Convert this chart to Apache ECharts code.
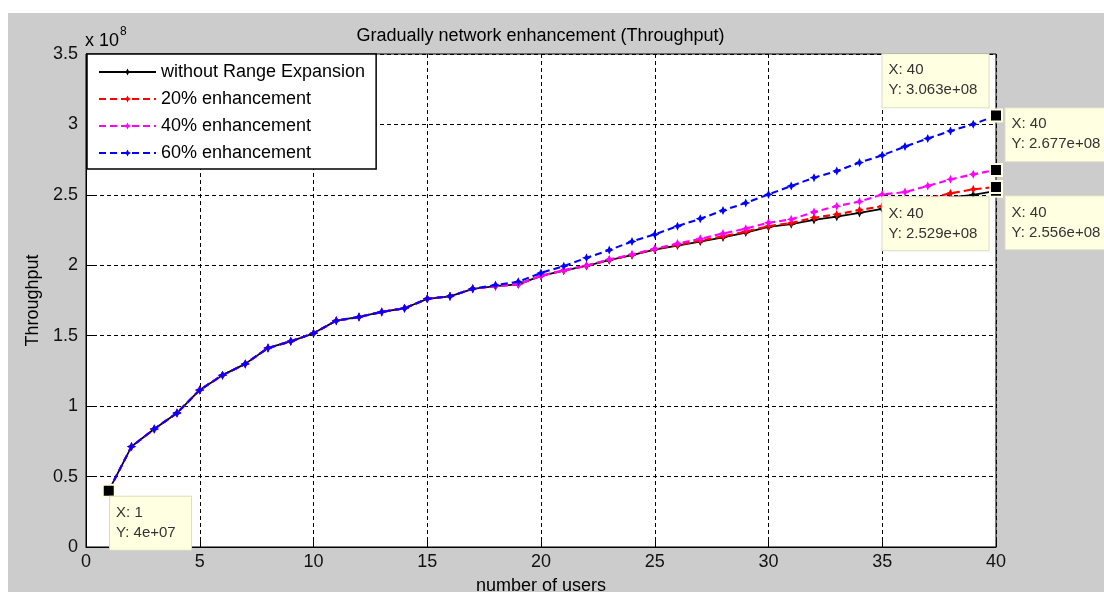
<!DOCTYPE html>
<html><head><meta charset="utf-8">
<script src="https://cdn.jsdelivr.net/npm/echarts@6/dist/echarts.min.js"></script>
<style>
html,body{margin:0;padding:0;background:#fff;width:1104px;height:592px;overflow:hidden}
#c{position:absolute;left:8px;top:13px;width:1096px;height:579px}
</style>
</head><body><div id="c"></div>
<script>
// ---- data (throughput in units of 1e8) ----
const users = [1,2,3,4,5,6,7,8,9,10,11,12,13,14,15,16,17,18,19,20,21,22,23,24,25,26,27,28,29,30,31,32,33,34,35,36,37,38,39,40];
const withoutRangeExpansion = [0.40,0.713,0.838,0.951,1.115,1.22,1.30,1.413,1.46,1.517,1.607,1.633,1.669,1.695,1.762,1.78,1.833,1.852,1.865,1.925,1.962,1.995,2.036,2.072,2.112,2.14,2.168,2.198,2.232,2.272,2.292,2.322,2.345,2.372,2.40,2.425,2.45,2.482,2.50,2.529];
const enh20 = [0.40,0.713,0.838,0.951,1.115,1.22,1.30,1.413,1.46,1.517,1.607,1.633,1.669,1.695,1.762,1.78,1.833,1.852,1.865,1.925,1.963,1.996,2.038,2.074,2.114,2.145,2.175,2.205,2.24,2.278,2.30,2.338,2.361,2.392,2.42,2.445,2.475,2.511,2.539,2.556];
const enh40 = [0.40,0.713,0.838,0.951,1.115,1.22,1.30,1.413,1.46,1.517,1.607,1.633,1.669,1.695,1.762,1.78,1.833,1.852,1.865,1.925,1.965,1.998,2.041,2.077,2.117,2.155,2.188,2.226,2.26,2.302,2.326,2.378,2.42,2.452,2.503,2.52,2.563,2.61,2.646,2.677];
const enh60 = [0.40,0.713,0.838,0.951,1.115,1.22,1.30,1.413,1.46,1.517,1.607,1.633,1.669,1.695,1.762,1.78,1.833,1.86,1.883,1.946,1.994,2.053,2.108,2.169,2.219,2.278,2.33,2.389,2.443,2.503,2.563,2.622,2.669,2.729,2.781,2.843,2.90,2.954,3.001,3.063];
const seriesNames = ['without Range Expansion','20% enhancement','40% enhancement','60% enhancement'];
const xTicks = [0,5,10,15,20,25,30,35,40];
const yTicks = [0,0.5,1,1.5,2,2.5,3,3.5];
// data tips
const tipSeriesIdx = [0,0,1,2,3];
const tipX = [1,40,40,40,40];
const tipY = [0.4,2.529,2.556,2.677,3.063];
const tipText = ['X: 1\nY: 4e+07','X: 40\nY: 2.529e+08','X: 40\nY: 2.556e+08','X: 40\nY: 2.677e+08','X: 40\nY: 3.063e+08'];

// ---- styles ----
const FONT = 'Liberation Sans, Arial, sans-serif';
const colors = ['#000000','#ff0000','#ff00ff','#0000ff'];
const dashes = ['solid',[7,4],[7,4],[7,4]];
const tipStyle = [ // offset of tip box (top-left) from the data point, box content width
  {off:[1.3,6.2], w:69},
  {off:[-113.5,6.6], w:94},
  {off:[9.5,9.4], w:100},
  {off:[9.5,-61.6], w:100},
  {off:[-113.5,-61.3], w:94}
];
const star = 'path://M5,0 L6.6,3.4 L10,5 L6.6,6.6 L5,10 L3.4,6.6 L0,5 L3.4,3.4 Z';
const allVals = [withoutRangeExpansion, enh20, enh40, enh60];

const series = allVals.map((vals, si) => {
  const mp = [];
  tipSeriesIdx.forEach((s, k) => {
    if (s !== si) return;
    mp.push({
      coord: [tipX[k], tipY[k]],
      label: {
        show: true, position: 'inside', align: 'left', verticalAlign: 'top',
        offset: tipStyle[k].off, formatter: tipText[k],
        backgroundColor: '#ffffe1', borderColor: '#dcdcc4', borderWidth: 1,
        padding: [6,6,7,6], width: tipStyle[k].w, height: 40, lineHeight: 20,
        fontSize: 15, color: '#333', fontFamily: FONT
      }
    });
  });
  return {
    name: seriesNames[si], type: 'line',
    data: users.map((u, i) => [u, vals[i]]),
    symbol: star, symbolSize: 9, showSymbol: true,
    itemStyle: {color: colors[si]},
    lineStyle: {color: colors[si], width: si === 0 ? 1.8 : 2.1, type: dashes[si]},
    emphasis: {disabled: true}, silent: true, animation: false, z: 2 + si,
    markPoint: mp.length ? {
      symbol: 'rect', symbolSize: 12, silent: true, animation: false, z: 20,
      itemStyle: {color: '#000', borderColor: '#ffffe1', borderWidth: 2},
      data: mp
    } : undefined
  };
});

const chart = echarts.init(document.getElementById('c'));
chart.setOption({
  backgroundColor: '#cccccc',
  animation: false,
  textStyle: {fontFamily: FONT},
  title: {
    text: 'Gradually network enhancement (Throughput)',
    left: 527.5, textAlign: 'center', top: 9,
    textStyle: {fontSize: 18, fontWeight: 'normal', color: '#000', fontFamily: FONT}
  },
  graphic: [
    {type: 'text', left: 77, top: 19, style: {text: 'x 10', font: '18px ' + FONT, fill: '#000'}},
    {type: 'text', left: 112, top: 13, style: {text: '8', font: '12px ' + FONT, fill: '#000'}}
  ],
  legend: {
    orient: 'vertical', left: 79, top: 41,
    padding: [9,11,7,11], itemWidth: 57, itemHeight: 9, itemGap: 9,
    backgroundColor: '#fff', borderColor: '#000', borderWidth: 1.5, borderRadius: 0,
    textStyle: {fontSize: 18, color: '#000', lineHeight: 18, fontFamily: FONT},
    data: seriesNames, selectedMode: false, z: 30
  },
  grid: {left: 78, right: 108, top: 41, bottom: 45, outerBoundsMode: 'none', containLabel: false,
    show: true, backgroundColor: '#fff', borderColor: '#000', borderWidth: 1},
  xAxis: {
    type: 'value', min: xTicks[0], max: xTicks[xTicks.length-1], interval: xTicks[1]-xTicks[0],
    name: 'number of users', nameLocation: 'middle', nameGap: 30,
    nameTextStyle: {fontSize: 18, color: '#000', fontFamily: FONT},
    axisLine: {show: true, lineStyle: {color: '#000', width: 1}},
    axisTick: {show: true, inside: true, length: 9, lineStyle: {color: '#000'}},
    axisLabel: {fontSize: 18, color: '#111', margin: 6, fontFamily: FONT},
    splitLine: {show: true, lineStyle: {color: '#000', type: [4,3], width: 1}}
  },
  yAxis: {
    type: 'value', min: yTicks[0], max: yTicks[yTicks.length-1], interval: yTicks[1]-yTicks[0],
    name: 'Throughput', nameLocation: 'middle', nameGap: 44, nameRotate: 90,
    nameTextStyle: {fontSize: 18, color: '#000', fontFamily: FONT},
    axisLine: {show: true, lineStyle: {color: '#000', width: 1}},
    axisTick: {show: true, inside: true, length: 9, lineStyle: {color: '#000'}},
    axisLabel: {fontSize: 18, color: '#111', margin: 8, fontFamily: FONT},
    splitLine: {show: true, lineStyle: {color: '#000', type: [4,3], width: 1}}
  },
  series: series
});
</script>
</body></html>
